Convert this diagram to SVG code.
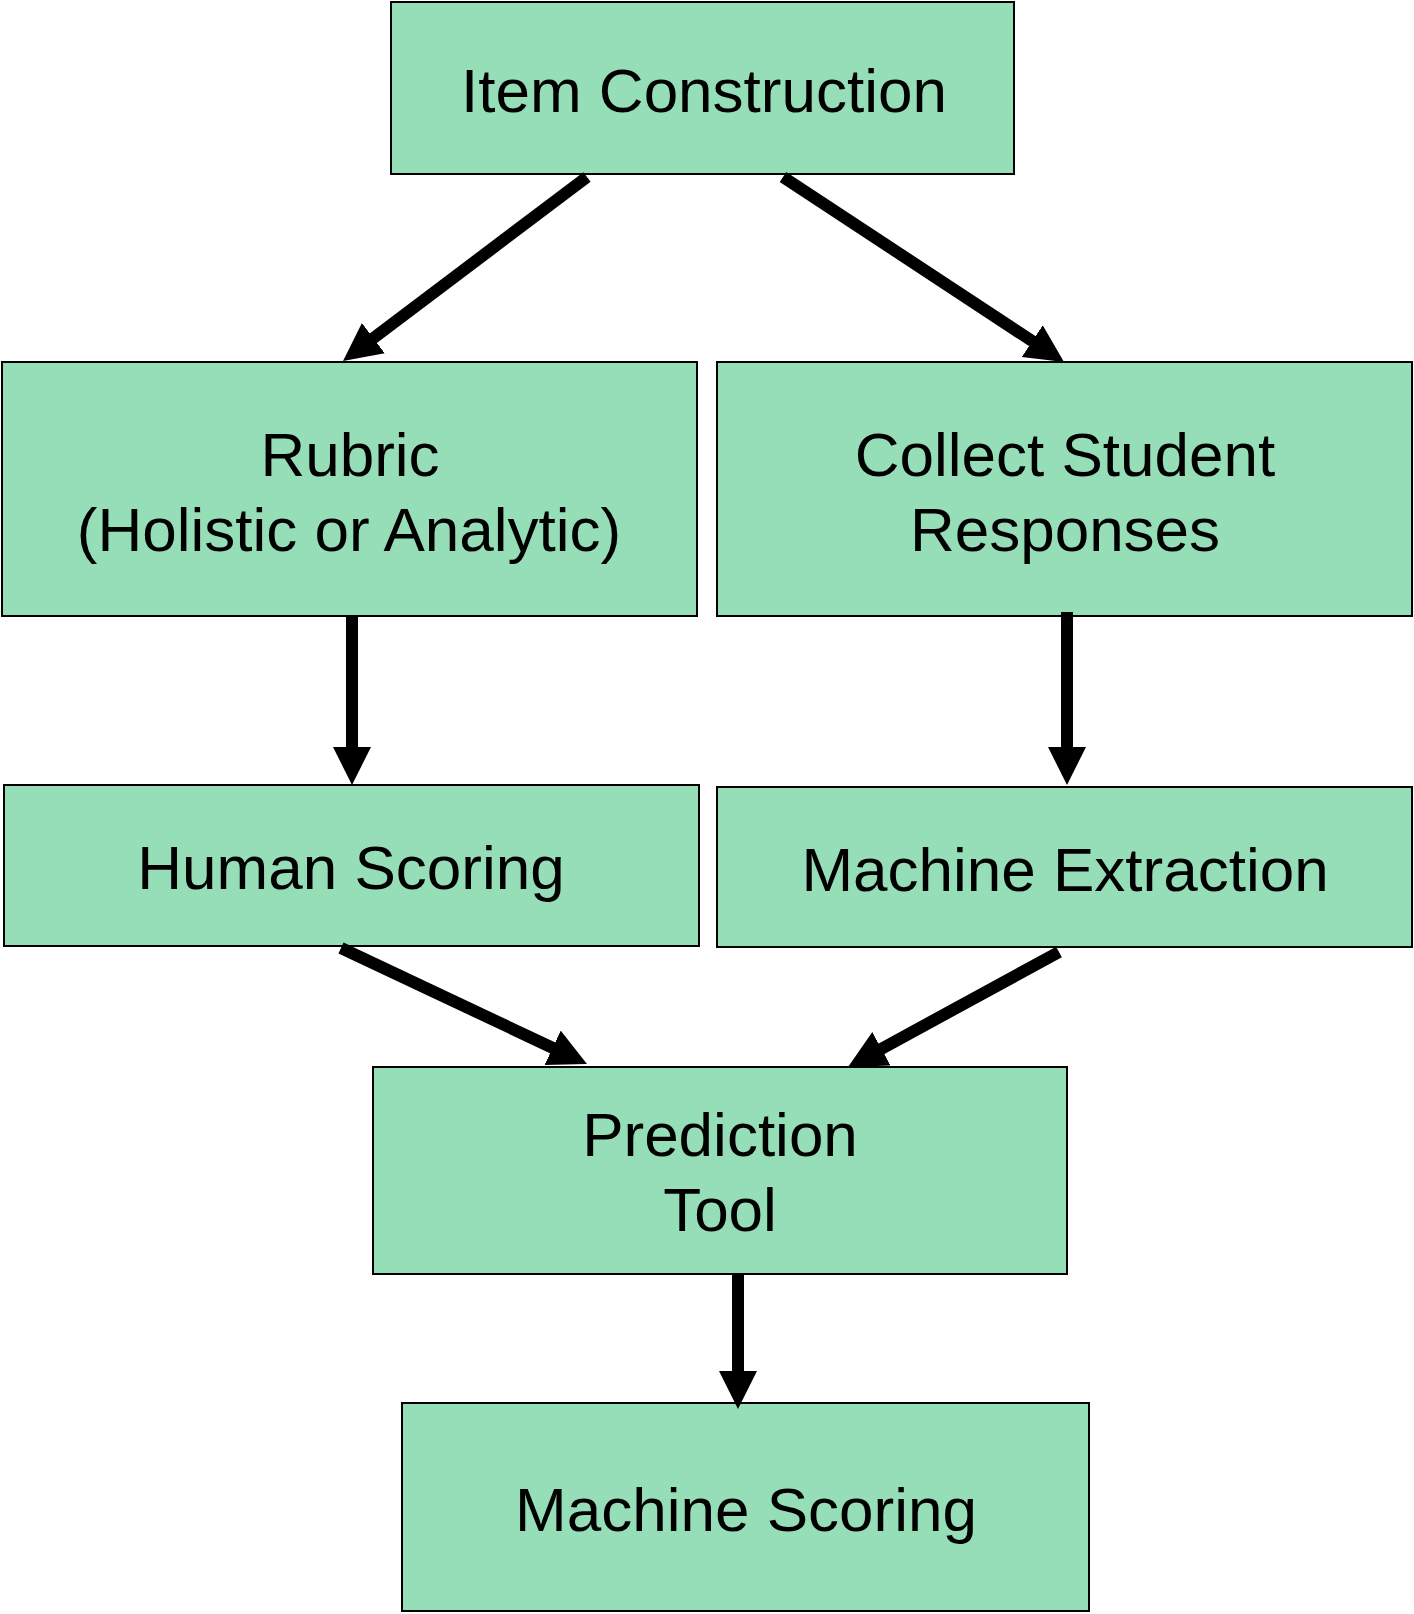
<svg xmlns="http://www.w3.org/2000/svg" width="1414" height="1614" viewBox="0 0 1414 1614">
<style>
.box{fill:#96DEB8;stroke:#000;stroke-width:2}
.lbl{font-family:"Liberation Sans",Arial,sans-serif;font-size:62px;fill:#000;text-anchor:middle}
.edge{stroke:#000;stroke-width:12;fill:none;marker-end:url(#ah)}
</style>
<defs>
<marker id="ah" markerUnits="userSpaceOnUse" markerWidth="40" markerHeight="40" refX="18" refY="19" orient="auto">
<path d="M0,0 L38,19 L0,38 z" fill="#000"/>
</marker>
</defs>
<rect width="1414" height="1614" fill="#fff"/>
<g id="item-construction">
<rect class="box" x="391" y="2" width="623" height="172"/>
<text class="lbl" x="704" y="112">Item Construction</text>
</g>
<g id="rubric">
<rect class="box" x="2" y="362" width="695" height="254"/>
<text class="lbl" x="350" y="476">Rubric</text>
<text class="lbl" x="349" y="551">(Holistic or Analytic)</text>
</g>
<g id="collect-student-responses">
<rect class="box" x="717" y="362" width="695" height="254"/>
<text class="lbl" x="1065" y="476">Collect Student</text>
<text class="lbl" x="1065" y="551">Responses</text>
</g>
<g id="human-scoring">
<rect class="box" x="4" y="785" width="695" height="161"/>
<text class="lbl" x="351" y="889">Human Scoring</text>
</g>
<g id="machine-extraction">
<rect class="box" x="717" y="787" width="695" height="160"/>
<text class="lbl" x="1065" y="891">Machine Extraction</text>
</g>
<g id="prediction-tool">
<rect class="box" x="373" y="1067" width="694" height="207"/>
<text class="lbl" x="720" y="1156">Prediction</text>
<text class="lbl" x="720" y="1231">Tool</text>
</g>
<g id="machine-scoring">
<rect class="box" x="402" y="1403" width="687" height="208"/>
<text class="lbl" x="746" y="1531">Machine Scoring</text>
</g>
<g id="connectors">
<line class="edge" x1="587" y1="177" x2="359" y2="349"/>
<line class="edge" x1="783" y1="177" x2="1047.3" y2="351"/>
<line class="edge" x1="352" y1="616" x2="352" y2="765"/>
<line class="edge" x1="1067" y1="612" x2="1067" y2="765"/>
<line class="edge" x1="341" y1="948" x2="568.9" y2="1055.5"/>
<line class="edge" x1="1059" y1="952" x2="865.6" y2="1057.4"/>
<line class="edge" x1="738" y1="1274" x2="738" y2="1389"/>
</g>
</svg>
